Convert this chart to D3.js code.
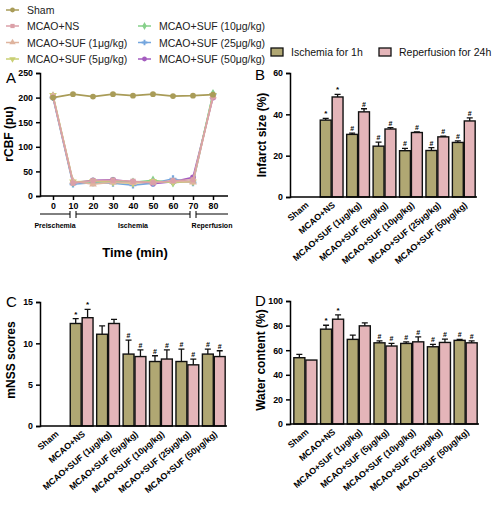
<!DOCTYPE html>
<html><head><meta charset="utf-8">
<script src="https://cdn.jsdelivr.net/npm/d3@7"></script>
<style>body{margin:0;background:#fff}svg{display:block;font-family:"Liberation Sans",Arial,sans-serif}</style>
</head><body><svg id="c" width="500" height="517"></svg>
<script>
// ---------- DATA ----------
const lineSeries = ["Sham","MCAO+NS","MCAO+SUF (1μg/kg)","MCAO+SUF (5μg/kg)","MCAO+SUF (10μg/kg)","MCAO+SUF (25μg/kg)","MCAO+SUF (50μg/kg)"];
const timePoints = [0,10,20,30,40,50,60,70,80];
const rcbfSham = [200,207,202,207,204,207,203,204,206];
const rcbfNS   = [201,26,31,32,30,27,31,33,201];
const rcbf1    = [204,30,24,28,27,28,30,28,203];
const rcbf5    = [205,29,30,28,26,30,28,29,205];
const rcbf10   = [203,28,29,30,28,32,27,30,208];
const rcbf25   = [200,24,27,26,22,26,35,27,207];
const rcbf50   = [202,27,32,33,29,25,29,38,200];
const rcbfTicks = [0,50,100,150,200,250];
const phaseLabels = ["Preischemia","Ischemia","Reperfusion"];

const groups = ["Sham","MCAO+NS","MCAO+SUF (1μg/kg)","MCAO+SUF (5μg/kg)","MCAO+SUF (10μg/kg)","MCAO+SUF (25μg/kg)","MCAO+SUF (50μg/kg)"];
const barSeries = ["Ischemia for 1h","Reperfusion for 24h"];
const infIsch  = [0,37.2,30.3,24.6,22.4,22.5,26.4];
const infIschE = [0,0.8,0.6,2.0,1.1,1.4,0.8];
const infRep   = [0,48.4,41.2,32.9,31.2,29.1,36.8];
const infRepE  = [0,1.3,1.5,0.7,0.3,0.3,1.5];
const infMarks = [["","*","#","#","#","#","#"],["","*","#","#","#","#","#"]];
const mnssIsch  = [0,12.4,11.1,8.7,7.8,7.8,8.7];
const mnssIschE = [0,0.6,1.0,1.7,0.7,1.5,0.6];
const mnssRep   = [0,13.1,12.4,8.4,8.1,7.4,8.4];
const mnssRepE  = [0,1.0,0.5,0.8,1.1,0.7,0.7];
const mnssMarks = [["","*","","#","#","#","#"],["","*","","#","#","#","#"]];
const watIsch  = [53.9,77.1,68.8,66.0,65.5,62.8,68.0];
const watIschE = [2.7,3.2,3.5,1.6,1.3,1.9,0.8];
const watRep   = [52.0,85.2,79.8,63.4,66.8,66.3,66.0];
const watRepE  = [0,3.5,2.4,2.1,4.0,2.7,1.6];
const watMarks = [["","*","","#","#","#","#"],["","*","","#","#","#","#"]];

// ---------- STYLE ----------
const lineColors = ["#a99c58","#dba0a8","#dfb49e","#c9cf73","#86d08a","#74a6de","#a45cbf"];
const lineShapes = [d3.symbolCircle,d3.symbolSquare,d3.symbolTriangle,"tdown",d3.symbolDiamond,d3.symbolCross,d3.symbolCircle];
const barColors = ["#b0a773","#e4b5b9"];
const svg = d3.select("#c");
const tickFont = {size:"8.8px", weight:"bold"};

function sym(shape,size){
  if(shape==="tdown") return d3.symbol(d3.symbolTriangle,size)();
  return d3.symbol(shape,size)();
}

// ---------- LEGEND (top-left) ----------
const legPos = [[0,10],[0,26],[0,42.5],[0,59],[132,26],[132,42.5],[132,59]];
lineSeries.forEach((s,i)=>{
  const [lx,ly]=legPos[i];
  const g=svg.append("g");
  g.append("line").attr("x1",lx+6).attr("x2",lx+19).attr("y1",ly).attr("y2",ly).attr("stroke",lineColors[i]).attr("stroke-width",1.5);
  g.append("path").attr("d",sym(lineShapes[i],18)).attr("transform",`translate(${lx+12.5},${ly})`+(lineShapes[i]==="tdown"?" rotate(180)":"")).attr("fill",lineColors[i]);
  g.append("text").attr("x",lx+27).attr("y",ly+4).attr("font-size","10.5px").attr("fill","#222").text(s);
});

// ---------- PANEL A ----------
{
  const x=d3.scaleLinear().domain([0,80]).range([53,213]);
  const y=d3.scaleLinear().domain([0,250]).range([196,73]);
  const g=svg.append("g");
  const ya=g.append("g").attr("transform","translate(40,0)").call(d3.axisLeft(y).tickValues(rcbfTicks).tickSize(4));
  const xa=g.append("g").attr("transform","translate(0,196)").call(d3.axisBottom(x).tickValues(timePoints).tickSize(4));
  xa.select(".domain").attr("d","M40,0H228");
  [ya,xa].forEach(a=>{a.selectAll("text").attr("font-size",tickFont.size).attr("font-weight",tickFont.weight).attr("fill","#000");
    a.selectAll("line,path").attr("stroke","#000").attr("stroke-width",1.5);});
  const all=[rcbfSham,rcbfNS,rcbf1,rcbf5,rcbf10,rcbf25,rcbf50];
  const ln=d3.line().x((d,i)=>x(timePoints[i])).y(d=>y(d));
  for(let k=all.length-1;k>=0;k--){
    g.append("path").datum(all[k]).attr("d",ln).attr("fill","none").attr("stroke",lineColors[k]).attr("stroke-width",1.6);
    g.selectAll(null).data(all[k]).enter().append("path")
      .attr("d",sym(lineShapes[k],26))
      .attr("transform",(d,i)=>`translate(${x(timePoints[i])},${y(d)})`+(lineShapes[k]==="tdown"?" rotate(180)":""))
      .attr("fill",lineColors[k]);
  }
  // phase brackets
  const br=[[40,x(10)-3],[x(10)+3,x(70)-3],[x(70)+3,228]];
  br.forEach((b,i)=>{
    g.append("path").attr("d",`M${b[0]},214H${b[1]}`+(i>0?`M${b[0]},211V218`:"")+(i<2?`M${b[1]},211V218`:""))
      .attr("stroke","#000").attr("stroke-width",1).attr("fill","none");
    g.append("text").attr("x",(b[0]+b[1])/2).attr("y",228).attr("text-anchor","middle").attr("font-size","7px").attr("font-weight","bold").text(phaseLabels[i]);
  });
  g.append("text").attr("x",135).attr("y",257).attr("text-anchor","middle").attr("font-size","13px").attr("font-weight","bold").text("Time (min)");
  g.append("text").attr("transform","translate(13,134) rotate(-90)").attr("text-anchor","middle").attr("font-size","12px").attr("font-weight","bold").text("rCBF (pu)");
  g.append("text").attr("x",6).attr("y",83).attr("font-size","15px").text("A");
}

// ---------- BAR PANELS ----------
function barPanel(o){
  const x=d3.scaleBand().domain(groups).range([o.x0+2,o.x1]).paddingInner(0.1).paddingOuter(0.05);
  const y=d3.scaleLinear().domain([0,o.max]).range([o.yb,o.yt]);
  const g=svg.append("g");
  const bw=x.bandwidth()/2;
  const vals=[o.a,o.b], errs=[o.ae,o.be];
  [0,1].forEach(s=>{
    groups.forEach((gr,i)=>{
      const v=vals[s][i]; if(v<=0) return;
      const bx=x(gr)+s*bw;
      g.append("rect").attr("x",bx+0.5).attr("width",bw-1).attr("y",y(v)).attr("height",y(0)-y(v))
        .attr("fill",barColors[s]).attr("stroke","#111").attr("stroke-width",1.4);
      const e=errs[s][i], cx=bx+bw/2;
      let top=y(v);
      if(e>0){
        top=y(v+e);
        g.append("path").attr("d",`M${cx},${y(v)}V${top}M${cx-3},${top}H${cx+3}`).attr("stroke","#111").attr("stroke-width",1.3);
      }
      const m=o.marks[s][i];
      if(m) g.append("text").attr("x",cx).attr("y",top-2).attr("text-anchor","middle").attr("font-size",m==="*"?"8px":"7px").attr("font-weight","bold").text(m);
    });
  });
  const ya=g.append("g").attr("transform",`translate(${o.x0},0)`).call(d3.axisLeft(y).tickValues(o.ticks).tickSize(4));
  const xa=g.append("g").attr("transform",`translate(0,${o.yb})`).call(d3.axisBottom(x).tickSize(0));
  xa.select(".domain").attr("d",`M${o.x0},0H${o.x1}`);
  xa.selectAll("text").attr("text-anchor","end").attr("dy","0").attr("y",0).attr("transform","translate(4,9) rotate(-40)");
  [ya,xa].forEach(a=>{a.selectAll("text").attr("font-size",tickFont.size).attr("font-weight",tickFont.weight).attr("fill","#000");
    a.selectAll("line,path").attr("stroke","#000").attr("stroke-width",1.5);});
  g.append("text").attr("transform",`translate(${o.tx},${o.ty}) rotate(-90)`).attr("text-anchor","middle").attr("font-size","12px").attr("font-weight","bold").text(o.title);
  g.append("text").attr("x",o.lx).attr("y",o.ly).attr("font-size","15px").text(o.letter);
}
barPanel({x0:290,x1:477,yb:197,yt:73,max:60,ticks:[0,20,40,60],a:infIsch,ae:infIschE,b:infRep,be:infRepE,marks:infMarks,title:"Infarct size (%)",tx:266,ty:135,letter:"B",lx:255,ly:80});
barPanel({x0:40,x1:227,yb:426,yt:302,max:15,ticks:[0,5,10,15],a:mnssIsch,ae:mnssIschE,b:mnssRep,be:mnssRepE,marks:mnssMarks,title:"mNSS scores",tx:15,ty:360,letter:"C",lx:6,ly:307});
barPanel({x0:290,x1:479,yb:424,yt:301,max:100,ticks:[0,20,40,60,80,100],a:watIsch,ae:watIschE,b:watRep,be:watRepE,marks:watMarks,title:"Water content (%)",tx:265,ty:360,letter:"D",lx:255,ly:306});

// bar legend
barSeries.forEach((s,i)=>{
  const lx=[271,379][i];
  svg.append("rect").attr("x",lx).attr("y",48).attr("width",12).attr("height",8).attr("fill",barColors[i]).attr("stroke","#111").attr("stroke-width",1.3);
  svg.append("text").attr("x",lx+20).attr("y",56).attr("font-size","10.5px").attr("fill","#111").text(s);
});
</script></body></html>
